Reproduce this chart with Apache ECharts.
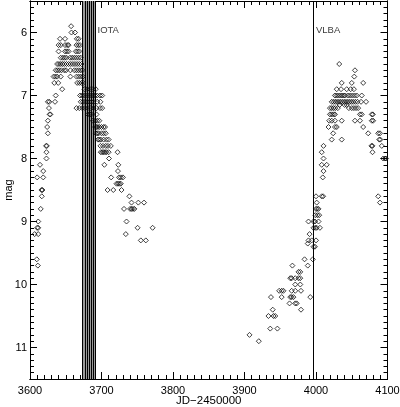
<!DOCTYPE html>
<html>
<head>
<meta charset="utf-8">
<script src="https://cdn.jsdelivr.net/npm/echarts@6/dist/echarts.min.js"></script>
<style>html,body{margin:0;padding:0;background:#fff}#c{width:400px;height:407px}</style>
</head>
<body>
<div id="c"></div>
<script>
// ---- data (JD-2450000, magnitude) ----
const cycle1Mag = [5.9,6.0,6.0,6.1,6.1,6.1,6.1,6.2,6.2,6.2,6.2,6.2,6.2,6.2,6.2,6.3,6.3,6.3,6.3,6.3,6.3,6.3,
6.4,6.4,6.4,6.4,6.4,6.4,6.4,6.4,6.4,6.4,6.5,6.5,6.5,6.5,6.5,6.5,6.5,6.5,6.5,6.5,6.5,6.5,6.5,
6.6,6.6,6.6,6.6,6.6,6.6,6.6,6.6,6.6,6.6,6.6,6.6,6.7,6.7,6.7,6.7,6.7,6.7,6.7,6.7,6.7,
6.8,6.8,6.8,6.8,6.8,6.8,6.9,6.9,6.9,6.9,6.9,6.9,
7.0,7.0,7.0,7.0,7.0,7.0,7.0,7.0,7.0,7.0,7.0,7.0,
7.1,7.1,7.1,7.1,7.1,7.1,7.1,7.1,7.1,7.1,7.1,7.1,
7.2,7.2,7.2,7.2,7.2,7.2,7.2,7.2,7.2,7.2,7.2,
7.3,7.3,7.3,7.3,7.3,7.3,7.4,7.4,7.4,7.4,7.4,
7.5,7.5,7.5,7.5,7.5,7.5,7.5,7.5,7.6,7.6,7.6,7.6,7.6,7.6,7.6,
7.7,7.7,7.7,7.7,7.7,7.7,7.8,7.8,7.8,7.8,7.8,7.8,7.8,
7.9,7.9,7.9,7.9,7.9,7.9,7.9,7.9,8.0,8.0,8.1,8.1,8.1,8.2,8.2,
8.3,8.3,8.3,8.3,8.3,8.3,8.4,8.4,8.4,8.4,8.5,8.5,8.5,8.5,8.5,8.6,8.6,
8.7,8.7,8.7,8.8,8.8,8.8,8.8,8.8,8.8,9.0,9.0,9.1,9.1,9.1,9.1,9.2,9.2,9.2,9.3,9.3,9.6,9.7];
const cycle1JD = [3657.5,3658,3663,3642,3649,3665.5,3668,3640,3643,3649,3652,3654,3665,3667.5,3670,3640,3649,3651.5,3654,3664,3666.5,3669,
3643,3646,3648.5,3651,3656,3659,3662,3665,3668,3671,3638,3640.5,3643,3645.5,3648,3651,3654,3657,3660,3663,3666,3669,3672,
3636,3638.5,3641,3644,3648,3650.5,3656.5,3662,3665,3668,3671,3673.5,3633,3635.5,3638,3643,3656.5,3665,3668,3671,3674,
3634,3639.5,3666,3669,3672,3674.5,3645,3676,3680,3684,3688,3692,
3636,3670,3673,3676,3679,3682,3685,3688,3691,3694,3698,3701,
3625,3627,3635,3671,3674,3677,3680,3683,3686,3689,3694,3698.5,
3626.5,3665,3669,3673,3677,3681,3685,3689,3693,3698,3701,
3627.5,3628.5,3681,3684,3686,3693,3625,3688,3691,3694,3697,
3624,3691,3693,3695,3697,3700,3703,3705,3625,3692,3694,3696,3700,3703,3706,
3695,3697,3699,3703,3707,3710,3622.5,3623.5,3698.5,3702,3706,3709,3713,
3623,3699,3701,3703,3705,3707,3710,3722.5,3623,3710.5,3614,3704,3723.5,3618.5,3723,
3610,3618.5,3713.5,3724.5,3727,3730,3721,3723,3725,3727,3616,3617.5,3708.5,3716.5,3728,3616.5,3739,
3742,3751.5,3759.5,3615,3731.5,3740,3742,3744,3746,3611.5,3735,3610,3611.5,3750.5,3771.5,3606.5,3611.5,3734,3755,3762,3609.5,3611];

const cycle2Mag = [6.5,6.6,6.7,6.8,6.8,6.8,6.9,6.9,6.9,6.9,6.9,
7.0,7.0,7.0,7.0,7.0,7.0,7.0,7.0,7.0,7.0,7.0,7.0,7.0,
7.1,7.1,7.1,7.1,7.1,7.1,7.1,7.1,7.1,7.1,7.1,7.1,7.1,7.1,7.1,7.1,7.1,
7.15,7.15,7.15,7.2,7.2,7.2,7.2,7.2,7.2,7.2,7.2,7.2,7.2,
7.3,7.3,7.3,7.3,7.3,7.3,7.3,7.3,7.4,7.4,7.4,7.4,7.4,7.4,7.4,7.4,
7.5,7.5,7.5,7.5,7.6,7.6,7.6,7.6,7.7,7.7,7.7,7.7,7.8,7.8,7.8,7.8,7.9,7.9,
8.0,8.0,8.0,8.0,8.1,8.1,8.2,8.3,8.6,8.6,8.6,8.6,8.7,8.7,8.8,8.8,8.8,8.9,8.9,8.9,
9.0,9.0,9.0,9.0,9.1,9.1,9.1,9.1,9.2,9.3,9.3,9.3,9.35,9.4,9.4,9.6,9.6,9.7,9.7,9.8,9.8,
9.9,9.9,9.9,9.9,9.9,10.0,10.0,10.1,10.1,10.1,10.1,10.1,10.1,10.2,10.2,10.2,10.2,10.2,10.2,
10.3,10.3,10.3,10.4,10.4,10.5,10.5,10.5,10.7,10.7,10.8,10.9];
const cycle2JD = [4032.5,4054.5,4053.5,4036,4050,4066,4029,4035,4043,4048.5,4053,
4026.5,4029,4031.5,4034,4036.5,4039,4041,4045,4048,4051,4054,4057,4064,
4022,4024.5,4027,4029.5,4032,4034.5,4037,4039.5,4042,4044.5,4047,4049.5,4052,4055,4058,4063,4070,
4033,4040,4043,4019.5,4022,4024.5,4027,4030.5,4046,4050,4053,4056,4059,
4019.5,4022,4024.5,4026.5,4061.5,4064,4078,4079.5,4018.5,4022,4026.5,4036,4054.5,4061.5,4078,4080,
4017.5,4026.5,4029,4066,4024,4073,4087,4089.5,4022,4036,4088.5,4090,4010.5,4077.5,4079,4092,4008,4079,
4010.5,4094,4096.5,4098,4008,4015,4010.5,4009.5,4000,4008,4010,4087,4001,4089.5,4000,4001.5,4003.5,3999,4002,4004.5,
3989.5,3996.5,3998.5,4003.5,3996.5,3999,4001,4005.5,3991,3989.5,3994,4000,3988.5,3996.5,3998.5,3984,3995.5,3967,3988.5,3975.5,3978,
3964,3966,3971,3975.5,3978,3971,3978,3948.5,3952,3954.5,3966,3971,3979,3937,3952,3964,3966,3968.5,3992,
3963,3971,3973,3939.5,3979,3933.5,3940.5,3943,3936,3946,3907,3920];

const iotaDates = [3673.1, 3677.9, 3680.1, 3682.9, 3686.3, 3688.5, 3691.9];
const vlbaDates = [3995.5];
const noteText = ['IOTA', 'VLBA'];
const noteJD = [3694.4, 4000];
const noteMag = [5.97, 5.96];

const xTitle = 'JD\u22122450000';
const yTitle = 'mag';

// ---- build ----
const pts1 = cycle1JD.map((x, i) => [x, cycle1Mag[i]]);
const pts2 = cycle2JD.map((x, i) => [x, cycle2Mag[i]]);
const notes = noteText.map((t, i) => [noteJD[i], noteMag[i], t]);

const FONT = 'Liberation Sans, Arial, Helvetica, sans-serif';
const black = '#000';
const X0 = 3600, X1 = 4100, Y0 = 5.5, Y1 = 11.5;

function xAx(pos, interval, len, labels) {
  return {
    type: 'value', position: pos, min: X0, max: X1, interval: interval,
    axisLine: { show: true, onZero: false, lineStyle: { color: black, width: 1 } },
    axisTick: { show: true, inside: true, length: len, lineStyle: { color: black, width: 1 } },
    axisLabel: { show: labels, margin: 6, color: black, fontFamily: FONT, fontSize: 11, formatter: v => String(v) },
    splitLine: { show: false },
    name: labels ? xTitle : '', nameLocation: 'middle', nameGap: 16, nameMoveOverlap: false,
    nameTextStyle: { color: black, fontFamily: FONT, fontSize: 11.5 }
  };
}
function yAx(pos, minor, labels) {
  const a = {
    type: 'value', position: pos, min: Y0, max: Y1, inverse: true,
    axisLine: { show: true, onZero: false, lineStyle: { color: black, width: 1 } },
    axisTick: { show: true, inside: true, length: minor ? 4 : 7, lineStyle: { color: black, width: 1 } },
    axisLabel: { show: labels, margin: 3, color: black, fontFamily: FONT, fontSize: 11, showMinLabel: false, showMaxLabel: false,
      formatter: v => String(v) },
    splitLine: { show: false },
    name: labels ? yTitle : '', nameLocation: 'middle', nameGap: 16, nameMoveOverlap: false,
    nameTextStyle: { color: black, fontFamily: FONT, fontSize: 11 }
  };
  if (minor) a.interval = 0.1; else a.splitNumber = 6;
  return a;
}

const chart = echarts.init(document.getElementById('c'), null, { renderer: 'canvas' });
chart.setOption({
  animation: false,
  backgroundColor: '#fff',
  grid: { left: 30, right: 12.5, top: 1, bottom: 28, containLabel: false, outerBoundsMode: 'none' },
  xAxis: [xAx('bottom', 100, 7, true), xAx('bottom', 10, 4, false), xAx('top', 100, 7, false), xAx('top', 10, 4, false)],
  yAxis: [yAx('left', false, true), yAx('left', true, false), yAx('right', false, false), yAx('right', true, false)],
  series: [
    {
      type: 'line', data: [], z: 1, silent: true,
      markArea: { silent: true, itemStyle: { color: '#9a9a9a' },
        data: [[{ xAxis: Math.min(...iotaDates) }, { xAxis: Math.max(...iotaDates) }]] }
    },
    {
      type: 'scatter', data: pts1.concat(pts2), z: 2, silent: true,
      symbol: 'diamond', symbolSize: 5,
      itemStyle: { color: 'rgba(255,255,255,0)', borderColor: '#111', borderWidth: 1 }
    },
    {
      type: 'line', data: [], z: 3, silent: true,
      markLine: { silent: true, symbol: 'none', label: { show: false },
        lineStyle: { color: black, width: 1, type: 'solid' },
        data: iotaDates.concat(vlbaDates).map(v => ({ xAxis: v })) }
    },
    {
      type: 'scatter', data: notes, z: 4, silent: true, symbolSize: 0,
      label: { show: true, position: 'right', distance: 0, formatter: p => p.data[2],
        color: black, fontFamily: FONT, fontSize: 9.5 }
    }
  ]
});
</script>
</body>
</html>
